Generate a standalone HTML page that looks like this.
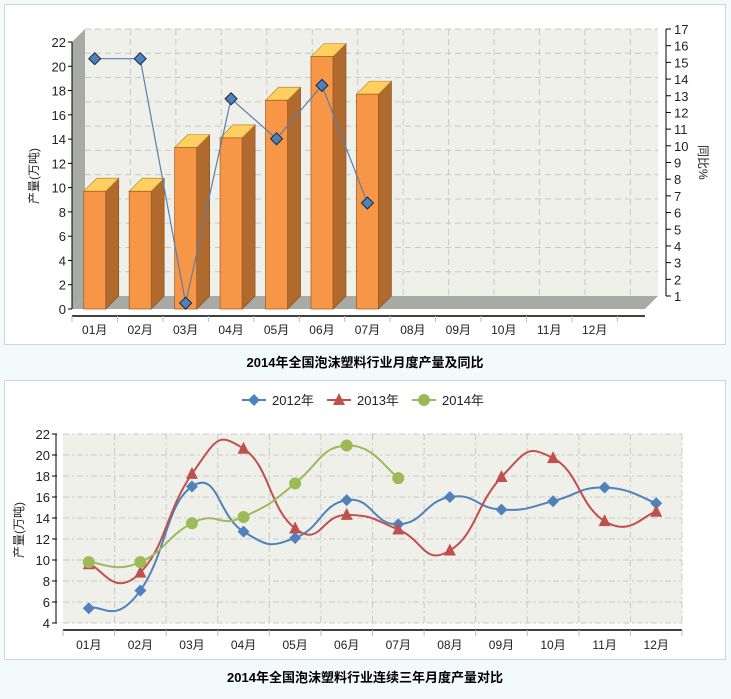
<!DOCTYPE html>
<html><head><meta charset="utf-8">
<style>
body{margin:0;background:#f3fafc;width:731px;height:699px;overflow:hidden;font-family:"Liberation Sans","Noto Sans CJK SC",sans-serif;}
svg{position:absolute;left:0;top:0}
</style></head>
<body>
<svg id="s" width="731" height="699" font-family="Liberation Sans, Noto Sans CJK SC, sans-serif">
<rect x="4.5" y="4.5" width="721" height="340" fill="#fff" stroke="#d0d4d6"/>
<rect x="4.5" y="380.5" width="721" height="279" fill="#fff" stroke="#d0d4d6"/>
<text x="365" y="367" text-anchor="middle" font-size="13" font-weight="bold" fill="#000">2014年全国泡沫塑料行业月度产量及同比</text>
<text x="365" y="682" text-anchor="middle" font-size="13" font-weight="bold" fill="#000">2014年全国泡沫塑料行业连续三年月度产量对比</text>
<g id="top"></g><g id="bot"></g>
</svg>
<script>
const months=["01月","02月","03月","04月","05月","06月","07月","08月","09月","10月","11月","12月"];
const prod2014=[9.7,9.7,13.3,14.1,17.2,20.8,17.7];
const yoy2014=[16.0,16.0,1.35,13.6,11.2,14.4,7.35];
const leftTicks=[0,2,4,6,8,10,12,14,16,18,20,22];
const rightTicks=[1,2,3,4,5,6,7,8,9,10,11,12,13,14,15,16,17];
const s2012=[5.4,7.1,17.0,12.7,12.1,15.7,13.4,16.0,14.8,15.6,16.9,15.4];
const s2013=[9.6,8.8,18.2,20.6,13.0,14.3,12.9,10.9,17.9,19.7,13.7,14.6];
const s2014=[9.8,9.8,13.5,14.1,17.3,20.9,17.8];
const bTicks=[4,6,8,10,12,14,16,18,20,22];
const NS="http://www.w3.org/2000/svg";
function mk(p,tag,a,txt){const e=document.createElementNS(NS,tag);for(const k in a)e.setAttribute(k,a[k]);if(txt!=null)e.textContent=txt;p.appendChild(e);return e;}
// ---------- top chart ----------
const T=document.getElementById('top');
const L=72,R=645,B=309,Tp=42,D=13;
const cw=45.45;
const yL=v=>B-(v-0)/22*(B-Tp);
const yR=v=>B-(v-1)/16*(B-Tp);
const xC=i=>L+cw*(i+0.5);
let e;
e=mk(T,'rect',{x:L+D,y:Tp-D,width:R-L,height:B-Tp,fill:'#f0f0ea'});

e=mk(T,'polygon',{points:`${L},${Tp} ${L+D},${Tp-D} ${L+D},${B-D} ${L},${B}`,fill:'#a8aaa6'});

e=mk(T,'polygon',{points:`${L},${B} ${L+D},${B-D} ${R+D},${B-D} ${R},${B}`,fill:'#a8aaa6'});

leftTicks.forEach(v=>{if(v>0){e=mk(T,'line',{x1:L+D,x2:R+D,y1:yL(v)-D,y2:yL(v)-D,stroke:'#c8c8c8','stroke-dasharray':'6,4'});}
 e=mk(T,'text',{x:L-6,y:yL(v)+5,'text-anchor':'end','font-size':13,fill:'#222'},v);
 mk(T,'line',{x1:L-4,x2:L,y1:yL(v),y2:yL(v),stroke:'#000'});});
for(let i=1;i<=12;i++){e=mk(T,'line',{x1:L+D+cw*i,x2:L+D+cw*i,y1:Tp-D,y2:B-D,stroke:'#c8c8c8','stroke-dasharray':'6,4'});}
mk(T,'line',{x1:L,x2:L,y1:Tp,y2:B,stroke:'#000'});
rightTicks.forEach(v=>{const y=yR(v)-D;mk(T,'line',{x1:R+D+8,x2:R+D+13,y1:y,y2:y,stroke:'#000'});
 e=mk(T,'text',{x:R+D+16,y:y+5,'font-size':13,fill:'#222'},v);});
mk(T,'line',{x1:R+D+8,x2:R+D+8,y1:Tp-D,y2:B-D,stroke:'#000'});
e=mk(T,'text',{x:0,y:0,'font-size':12,fill:'#222',transform:'translate(699,145) rotate(90)'},'同比%');
e=mk(T,'text',{x:0,y:0,'font-size':12,fill:'#222','text-anchor':'middle',transform:'translate(38,176) rotate(-90)'},'产量(万吨)');
mk(T,'line',{x1:L,x2:R,y1:316,y2:316,stroke:'#000','stroke-width':1.5});
for(let i=0;i<=12;i++)mk(T,'line',{x1:L+cw*i,x2:L+cw*i,y1:316,y2:322,stroke:'#bbb'});
months.forEach((m,i)=>{e=mk(T,'text',{x:xC(i),y:334,'text-anchor':'middle','font-size':12,fill:'#222'},m);});
const bw=22;
prod2014.forEach((v,i)=>{const x0=xC(i)-11,y0=yL(v);const g=mk(T,'g',{});
 
 mk(g,'polygon',{points:`${x0+bw},${y0} ${x0+bw+D},${y0-D} ${x0+bw+D},${B-D} ${x0+bw},${B}`,fill:'#b06a2e',stroke:'#8a5020','stroke-width':0.7});
 mk(g,'polygon',{points:`${x0},${y0} ${x0+D},${y0-D} ${x0+bw+D},${y0-D} ${x0+bw},${y0}`,fill:'#ffd060',stroke:'#b88a30','stroke-width':0.7});
 mk(g,'rect',{x:x0,y:y0,width:bw,height:B-y0,fill:'#f79646',stroke:'#9a5a22','stroke-width':0.7});});
e=mk(T,'polyline',{points:yoy2014.map((v,i)=>xC(i)+','+yR(v)).join(' '),fill:'none',stroke:'#5c7fa8','stroke-width':1.2});

yoy2014.forEach((v,i)=>{const x=xC(i),y=yR(v);e=mk(T,'polygon',{points:`${x},${y-6} ${x+6},${y} ${x},${y+6} ${x-6},${y}`,fill:'#4f81bd',stroke:'#1a2a40','stroke-width':1});
 });
// ---------- bottom chart ----------
const G=document.getElementById('bot');
const bL=63,bR=682,bB=623,bT=434;
const bcw=(bR-bL)/12;
const by=v=>bB-(v-4)/18*(bB-bT);
const bx=i=>bL+bcw*(i+0.5);
e=mk(G,'rect',{x:bL,y:bT,width:bR-bL,height:bB-bT,fill:'#f0f0ea'});
bTicks.forEach(v=>{e=mk(G,'line',{x1:bL,x2:bR,y1:by(v),y2:by(v),stroke:'#c8c8c8','stroke-dasharray':'6,3,2,3'});
 mk(G,'line',{x1:52,x2:57,y1:by(v),y2:by(v),stroke:'#000'});
 e=mk(G,'text',{x:50,y:by(v)+5,'text-anchor':'end','font-size':13,fill:'#222'},v);});
mk(G,'line',{x1:56,x2:56,y1:bT,y2:bB,stroke:'#000'});
for(let i=1;i<=12;i++){e=mk(G,'line',{x1:bL+bcw*i,x2:bL+bcw*i,y1:bT,y2:bB,stroke:'#c8c8c8','stroke-dasharray':'6,3,2,3'});}
mk(G,'line',{x1:bL,x2:bR,y1:630,y2:630,stroke:'#000','stroke-width':1.5});
for(let i=0;i<=12;i++)mk(G,'line',{x1:bL+bcw*i,x2:bL+bcw*i,y1:630,y2:636,stroke:'#bbb'});
months.forEach((m,i)=>{e=mk(G,'text',{x:bx(i),y:649,'text-anchor':'middle','font-size':12,fill:'#222'},m);});
e=mk(G,'text',{x:0,y:0,'font-size':12,fill:'#222','text-anchor':'middle',transform:'translate(23,530) rotate(-90)'},'产量(万吨)');
function spline(vals){const p=vals.map((v,i)=>[bx(i),by(v)]);let d='M'+p[0];const t=0.3;
 for(let i=0;i<p.length-1;i++){const p0=p[i-1]||p[i],p1=p[i],p2=p[i+1],p3=p[i+2]||p2;
  const c1=[p1[0]+(p2[0]-p0[0])*t/1.2,p1[1]+(p2[1]-p0[1])*t];const c2=[p2[0]-(p3[0]-p1[0])*t/1.2,p2[1]-(p3[1]-p1[1])*t];
  d+=` C${c1} ${c2} ${p2}`;}return d;}
function marker(g,type,x,y,c){if(type==='d')return mk(g,'polygon',{points:`${x},${y-6} ${x+6},${y} ${x},${y+6} ${x-6},${y}`,fill:c});
 if(type==='t')return mk(g,'polygon',{points:`${x},${y-7} ${x+6},${y+5} ${x-6},${y+5}`,fill:c});return mk(g,'circle',{cx:x,cy:y,r:6,fill:c});}
const series=[[s2012,'#4f81bd','d','series-2012'],[s2013,'#c0504d','t','series-2013'],[s2014,'#9bbb59','c','series-2014']];
series.forEach(([vals,c,t,n])=>{const g=mk(G,'g',{});
 mk(g,'path',{d:spline(vals),fill:'none',stroke:c,'stroke-width':2});
 vals.forEach((v,i)=>{const m=marker(g,t,bx(i),by(v),c);});});
const leg=[['2012年','#4f81bd','d',254],['2013年','#c0504d','t',339],['2014年','#9bbb59','c',424]];
leg.forEach(([l,c,t,x])=>{const g=mk(G,'g',{});
 mk(g,'line',{x1:x-12,x2:x+12,y1:400,y2:400,stroke:c,'stroke-width':2});marker(g,t,x,400,c);
 mk(g,'text',{x:x+18,y:405,'font-size':13,fill:'#222'},l);});
</script>
</body></html>
